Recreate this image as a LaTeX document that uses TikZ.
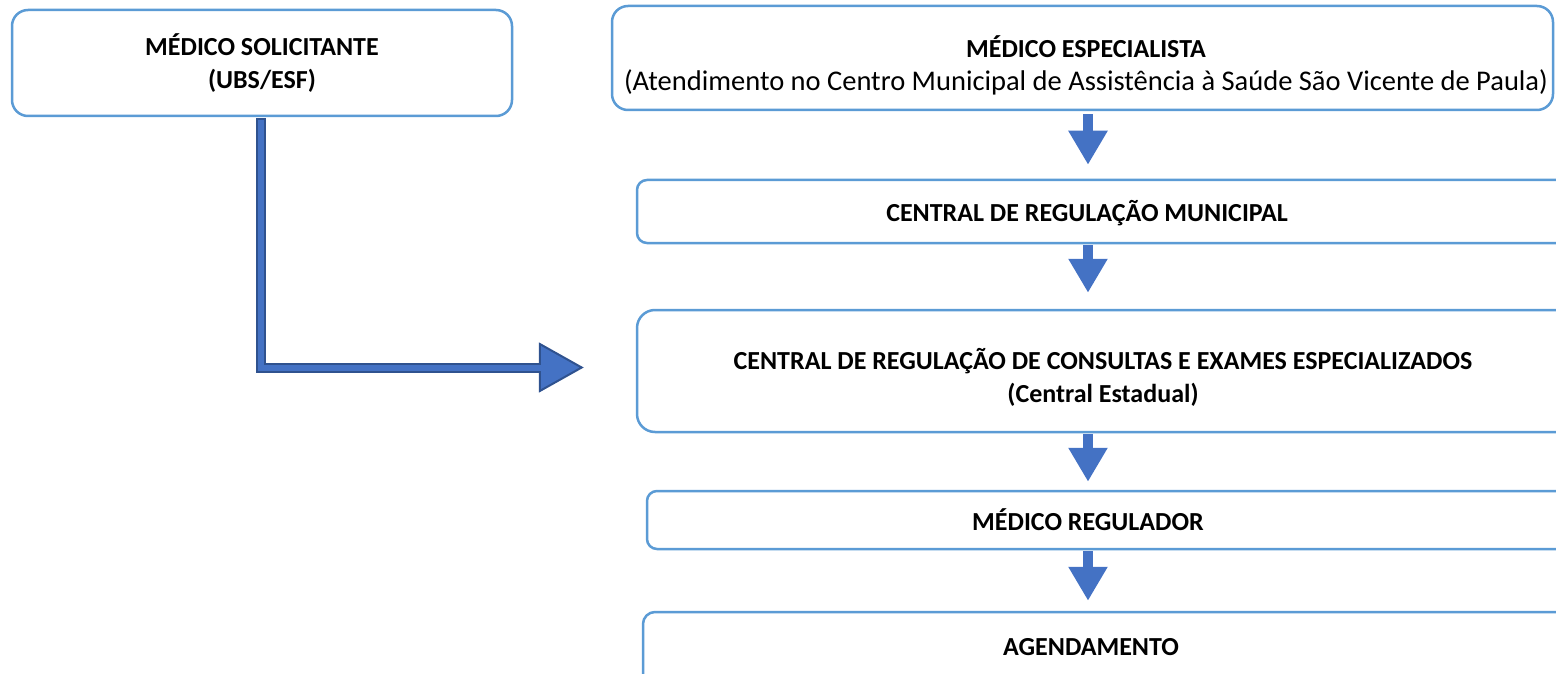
\documentclass[tikz,border=0pt]{standalone}
\usepackage{fontspec}
\setmainfont{Carlito}
\usetikzlibrary{arrows.meta,calc}
\definecolor{boxblue}{RGB}{91,155,213}
\definecolor{arrowblue}{RGB}{68,114,196}
\definecolor{arrowdark}{RGB}{47,82,143}

\begin{document}
\begin{tikzpicture}[x=1pt,y=-1pt,
    box/.style={draw=boxblue, line width=2.5pt, fill=white, inner sep=0pt, rounded corners=#1},
    box/.default=12pt,
    lbl/.style={font=\fontsize{26}{33}\selectfont\bfseries, align=center, inner sep=0pt},
    flow/.style={line width=10pt, draw=arrowblue, -{Triangle[length=34pt,width=37pt]}},
    bentout/.style={line width=10pt, draw=arrowdark,
      -{Triangle[length=45pt,width=50pt,fill=arrowblue,line width=2pt]},
      shorten <=1pt, shorten >=52pt},
    bentin/.style={line width=6pt, draw=arrowblue, shorten <=3pt, shorten >=92pt}]
  \useasboundingbox (0,0) rectangle (1556,674);

  %%% boxes
  \node[box=16pt, minimum width=500pt, minimum height=106pt, lbl] (solic) at (262,63)
    {MÉDICO SOLICITANTE\\(UBS/ESF)};
  \node[box=16pt, minimum width=941pt, minimum height=104pt] (espec) at (1082.5,58) {};
  \node[box=10pt, minimum width=963pt, minimum height=63pt] (regmun) at (1118.5,211.5) {};
  \node[box=18pt, minimum width=963pt, minimum height=122pt] (regest) at (1118.5,371) {};
  \node[box=10pt, minimum width=953pt, minimum height=58pt] (regul) at (1123.5,520) {};
  \node[box=12pt, minimum width=957pt, minimum height=88pt] (agend) at (1121.5,656) {};

  %%% texts
  \node[lbl] (espec-t) at (1086,65)
    {MÉDICO ESPECIALISTA\\\fontsize{28.5}{33}\selectfont\mdseries(Atendimento no Centro Municipal de Assistência à Saúde São Vicente de Paula)};
  \node[lbl] (regmun-t) at (1087,213) {CENTRAL DE REGULAÇÃO MUNICIPAL};
  \node[lbl] (regest-t) at (1103,377)
    {CENTRAL DE REGULAÇÃO DE CONSULTAS E EXAMES ESPECIALIZADOS\\(Central Estadual)};
  \node[lbl] (regul-t) at (1088,520) {MÉDICO REGULADOR};
  \node[lbl] (agend-t) at (1091,647) {AGENDAMENTO};

  %%% arrows
  \coordinate (axis) at (1088,0);
  \draw[flow, shorten <=3pt, shorten >=14pt] (espec.south -| axis) -- (regmun.north -| axis);
  \draw[flow, shorten <=1pt, shorten >=16pt] (regmun.south -| axis) -- (regest.north -| axis);
  \draw[flow, shorten <=1pt, shorten >=8pt] (regest.south -| axis) -- (regul.north -| axis);
  \draw[flow, shorten <=1pt, shorten >=10pt] (regul.south -| axis) -- (agend.north -| axis);

  \coordinate (shaftx) at (261,0);
  \draw[bentout] (solic.south -| shaftx) |- ([yshift=3.5pt]regest.west);
  \draw[bentin] (solic.south -| shaftx) |- ([yshift=3.5pt]regest.west);
\end{tikzpicture}
\end{document}
